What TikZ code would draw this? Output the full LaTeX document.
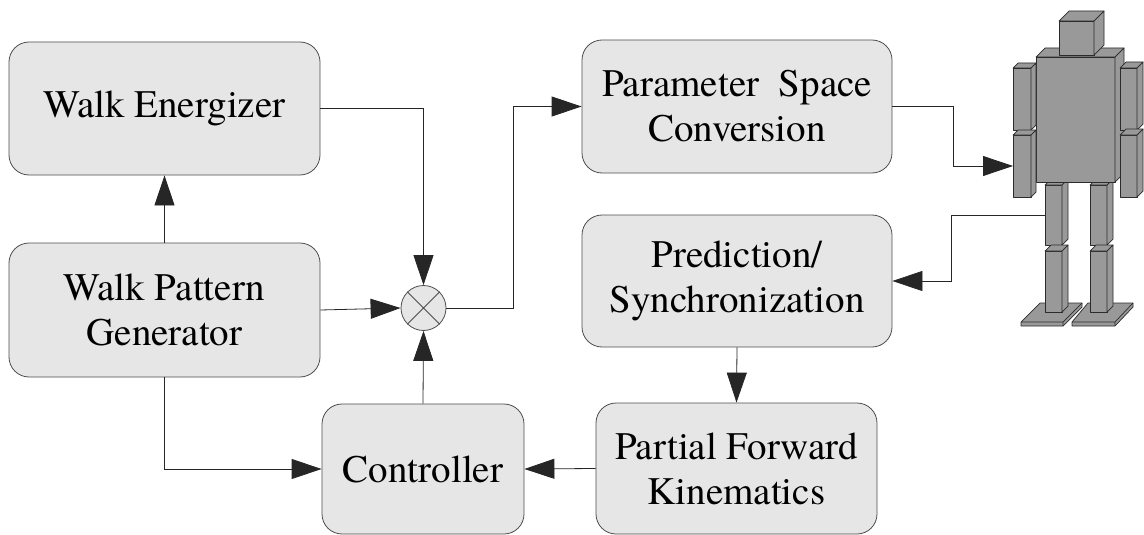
\documentclass[tikz,border=0pt]{standalone}
\usepackage{fontspec}
\setmainfont{TeX Gyre Termes}
\usetikzlibrary{arrows.meta}

\definecolor{boxfill}{HTML}{E6E6E6}
\definecolor{boxline}{HTML}{4D4D4D}
\definecolor{botfill}{HTML}{999999}
\definecolor{botline}{HTML}{2B2B2B}

% box seen from the front right: x, y, width, height, depth
\newcommand{\cuboid}[5]{%
  \filldraw[bot] (#1,#2) rectangle ++(#3,#4);
  \filldraw[bot] (#1,#2) -- ++(#5,-#5) -- ++(#3,0) -- ++(-#5,#5) -- cycle;
  \filldraw[bot] (#1+#3,#2) -- ++(#5,-#5) -- ++(0,#4) -- ++(-#5,#5) -- cycle;
}

\begin{document}
\begin{tikzpicture}[x=1pt, y=-1pt,
  block/.style={draw=boxline, fill=boxfill, line width=0.8pt, rounded corners=20pt,
    align=center, inner sep=0pt, font=\fontsize{39}{45}\selectfont},
  link/.style={draw=black!85, line width=0.8pt, -{Triangle[length=30pt,width=20pt]}},
  bot/.style={fill=botfill, draw=botline, line width=0.7pt, line join=round}]
  \useasboundingbox (0,0) rectangle (1144,535);

  % blocks
  \node[block, minimum width=311pt, minimum height=133pt] (we) at (164.5,108.5) {Walk Energizer};
  \node[block, minimum width=311pt, minimum height=134pt] (wpg) at (164.5,310) {Walk Pattern\\Generator};
  \node[block, minimum width=310pt, minimum height=133pt] (psc) at (737,106.5) {Parameter\ \ Space\\Conversion};
  \node[block, minimum width=310pt, minimum height=132pt] (pred) at (737,281) {Prediction/\\Synchronization};
  \node[block, minimum width=281pt, minimum height=131pt] (pfk) at (736.5,468.5) {Partial Forward\\Kinematics};
  \node[block, minimum width=202pt, minimum height=130pt] (ctrl) at (423,469) {Controller};

  % mixing point
  \node[circle, draw=boxline, fill=boxfill, line width=0.8pt, minimum size=45pt, inner sep=0pt] (mix) at (423.5,308) {};
  \draw[boxline, line width=0.8pt] (mix.north west) -- (mix.south east) (mix.north east) -- (mix.south west);

  % robot: feet, legs, body, head, arms
  \filldraw[bot] (1040,303) -- (1082,303) -- (1082,307) -- (1063,326) -- (1021,326) -- (1021,322) -- cycle;
  \draw[botline, line width=0.7pt] (1021,322) -- (1063,322) -- (1082,303) (1063,322) -- (1063,326);
  \filldraw[bot] (1088,303) -- (1133,303) -- (1133,307) -- (1115,326) -- (1072,326) -- (1072,322) -- cycle;
  \draw[botline, line width=0.7pt] (1072,322) -- (1115,322) -- (1133,303) (1115,322) -- (1115,326);
  \cuboid{1045}{185}{17}{60}{6}
  \cuboid{1045}{251}{17}{61}{6}
  \cuboid{1090}{185}{17}{60}{6}
  \cuboid{1090}{251}{17}{61}{6}
  \cuboid{1036}{57}{79}{125}{9}
  \cuboid{1059}{21}{35}{34}{10}
  \cuboid{1013}{68}{18}{62}{5}
  \cuboid{1013}{135}{18}{62}{5}
  \cuboid{1120}{68}{17}{62}{6}
  \cuboid{1120}{135}{17}{62}{6}
  \coordinate (robotin) at (1013,166); % lower left arm
  \coordinate (robotout) at (1045,215); % upper left leg

  % connectors
  \draw[link] (wpg.north) -- (we.south);
  \draw[link] (wpg.east) -- (mix.west);
  \draw[link] (we.east) -| (mix.north);
  \draw[link] (ctrl.north) -- (mix.south);
  \draw[link] (mix.east) -- ++(67,0) |- (psc.west);
  \draw[link] (psc.east) -- ++(61,0) |- (robotin);
  \draw[link] (robotout) -- ++(-94,0) |- (pred.east);
  \draw[link] (pred.south) -- (pfk.north);
  \draw[link] (pfk.west) -- (ctrl.east);
  \draw[link] (wpg.south) |- (ctrl.west);
\end{tikzpicture}
\end{document}
